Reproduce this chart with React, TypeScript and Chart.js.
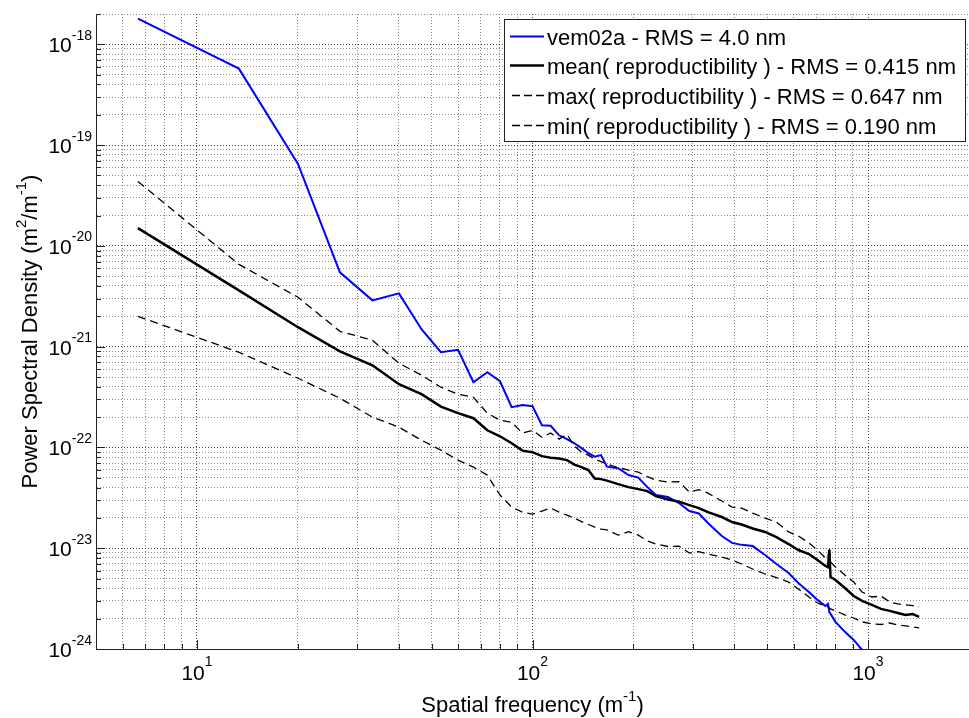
import React, { useEffect, useRef } from "react";
import { Chart, registerables } from "chart.js";

Chart.register(...registerables);

// ---- data ----
const freq = [
  6.667, 13.33, 20, 26.67, 33.33, 40, 46.67, 53.33, 60, 66.67,
  73.33, 80, 86.67, 93.33, 100, 106.7, 113.3, 120, 126.7, 133.3,
  140, 146.7, 153.3, 160, 166.7, 180, 193.3, 206.7, 220, 233.3,
  253.3, 273.3, 293.3, 313.3, 333.3, 366.7, 393.3, 420, 453.3, 493.3,
  533.3, 580, 620, 666.7, 706.7, 746.7, 760, 766.7, 773.3, 800, 853.3, 906.7,
  960, 1026.7, 1093.3, 1160, 1226.7, 1293.3, 1360, 1420,
];

const psdVem = [
  1.8e-18, 5.74e-19, 6.5e-20, 5.46e-21, 2.88e-21, 3.38e-21, 1.49e-21, 8.8e-22, 9.32e-22, 4.44e-22,
  5.58e-22, 4.54e-22, 2.51e-22, 2.63e-22, 2.57e-22, 1.66e-22, 1.64e-22, 1.32e-22, 1.21e-22, 1.1e-22,
  9.84e-23, 8.78e-23, 8.1e-23, 8.39e-23, 6.45e-23, 6.23e-23, 5.32e-23, 5.02e-23, 4.04e-23, 3.37e-23,
  3.22e-23, 2.81e-23, 2.34e-23, 2.21e-23, 1.78e-23, 1.32e-23, 1.13e-23, 1.08e-23, 1.05e-23, 8.56e-24,
  6.97e-24, 5.68e-24, 4.52e-24, 3.68e-24, 3.07e-24, 2.67e-24, 2.8e-24, 2.33e-24, 2.23e-24, 1.86e-24, 1.48e-24, 1.23e-24,
  9.8e-25, 7.8e-25, null, null, null, null, null, null,
];

const psdMean = [
  1.5e-20, 3.62e-21, 1.56e-21, 9.0e-22, 6.54e-22, 4.24e-22, 3.38e-22, 2.54e-22, 2.19e-22, 1.95e-22,
  1.48e-22, 1.29e-22, 1.1e-22, 9.3e-23, 8.98e-23, 8.2e-23, 7.92e-23, 7.78e-23, 7.48e-23, 6.75e-23,
  6.38e-23, 5.96e-23, 4.91e-23, 4.85e-23, 4.69e-23, 4.33e-23, 4.04e-23, 3.86e-23, 3.69e-23, 3.29e-23,
  3.04e-23, 2.9e-23, 2.68e-23, 2.5e-23, 2.28e-23, 2.04e-23, 1.82e-23, 1.72e-23, 1.57e-23, 1.45e-23,
  1.29e-23, 1.1e-23, 9.6e-24, 8.76e-24, 7.64e-24, 6.66e-24, 6.5e-24, 9.6e-24, 5.18e-24, 4.84e-24, 4.03e-24, 3.36e-24,
  3.0e-24, 2.74e-24, 2.5e-24, 2.39e-24, 2.28e-24, 2.18e-24, 2.22e-24, 2.08e-24,
];

const psdMax = [
  4.36e-20, 6.56e-21, 3.09e-21, 1.42e-21, 1.16e-21, 6.85e-22, 5.21e-22, 3.96e-22, 3.38e-22, 3.15e-22,
  2.19e-22, 1.86e-22, 1.78e-22, 1.39e-22, 1.48e-22, 1.26e-22, 1.39e-22, 1.21e-22, 1.35e-22, 1.03e-22,
  8.98e-23, 8.39e-23, 7.66e-23, 7.23e-23, 6.83e-23, 6.31e-23, 5.96e-23, 5.69e-23, 5.14e-23, 4.74e-23,
  4.53e-23, 4.58e-23, 3.61e-23, 3.82e-23, 3.52e-23, 2.94e-23, 2.56e-23, 2.5e-23, 2.23e-23, 1.99e-23,
  1.82e-23, 1.45e-23, 1.32e-23, 1.13e-23, 9.6e-24, 8.0e-24, 7.8e-24, 1.03e-23, 7.3e-24, 6.51e-24, 5.43e-24, 4.62e-24,
  3.68e-24, 3.28e-24, 3.35e-24, 2.93e-24, 2.8e-24, 2.74e-24, 2.7e-24, 2.61e-24,
];

const psdMin = [
  2.0e-21, 8.8e-22, 4.86e-22, 3.08e-22, 2.0e-22, 1.59e-22, 1.18e-22, 9.4e-23, 7.48e-23, 6.38e-23,
  5.32e-23, 3.37e-23, 2.56e-23, 2.28e-23, 2.18e-23, 2.34e-23, 2.5e-23, 2.28e-23, 2.13e-23, 1.99e-23,
  1.84e-23, 1.72e-23, 1.62e-23, 1.55e-23, 1.52e-23, 1.35e-23, 1.46e-23, 1.35e-23, 1.18e-23, 1.1e-23,
  1.04e-23, 1.05e-23, 8.96e-24, 9.27e-24, 8.76e-24, 8.18e-24, 7.64e-24, 6.97e-24, 6.22e-24, 5.55e-24,
  5.12e-24, 4.62e-24, 3.94e-24, 3.28e-24, 2.86e-24, 2.67e-24, 2.61e-24, 2.55e-24, 2.5e-24, 2.39e-24, 2.18e-24, 2.03e-24,
  1.86e-24, 1.77e-24, 1.75e-24, 1.81e-24, 1.73e-24, 1.7e-24, 1.66e-24, 1.62e-24,
];

const seriesLabels = [
  "vem02a - RMS = 4.0 nm",
  "mean( reproductibility ) - RMS = 0.415 nm",
  "max( reproductibility ) - RMS = 0.647 nm",
  "min( reproductibility ) - RMS = 0.190 nm",
];

const xTickExponents = [1, 2, 3];
const yTickExponents = [-24, -23, -22, -21, -20, -19, -18];
const xRange = [5, 2000];
const yRange = [1e-24, 2e-18];
const xTitleParts = ["Spatial frequency (m", "-1", ")"];
const yTitleParts = ["Power Spectral Density (m", "2", "/m", "-1", ")"];

// ---- helpers ----
const FONT = '"Liberation Sans", Arial, Helvetica, sans-serif';

function isDecade(v: number) {
  const l = Math.log10(v);
  return Math.abs(l - Math.round(l)) < 1e-9;
}

function logGridValues(min: number, max: number) {
  const out: number[] = [];
  const e0 = Math.floor(Math.log10(min));
  const e1 = Math.ceil(Math.log10(max));
  for (let e = e0; e <= e1; e++) {
    for (let m = 1; m <= 9; m++) {
      const v = Number(`${m}e${e}`);
      if (v >= min * (1 - 1e-9) && v <= max * (1 + 1e-9)) out.push(v);
    }
  }
  return out;
}

type Seg = { t: string; size: number; dy: number };

function richWidth(ctx: CanvasRenderingContext2D, segs: Seg[]) {
  let w = 0;
  for (const s of segs) {
    ctx.font = `${s.size}px ${FONT}`;
    w += ctx.measureText(s.t).width;
  }
  return w;
}

function drawRich(ctx: CanvasRenderingContext2D, segs: Seg[], x: number, y: number) {
  let cx = x;
  for (const s of segs) {
    ctx.font = `${s.size}px ${FONT}`;
    ctx.fillText(s.t, cx, y + s.dy);
    cx += ctx.measureText(s.t).width;
  }
}

function titleSegs(parts: string[]): Seg[] {
  return parts.map((t, i) =>
    i % 2 === 1 ? { t, size: 15, dy: -11 } : { t, size: 22, dy: 0 }
  );
}

const matlabAxesPlugin = {
  id: "matlabAxes",
  afterDraw(chart: any) {
    const { ctx, chartArea: a, scales } = chart;
    const xs = scales.x;
    const ys = scales.y;
    ctx.save();
    ctx.setLineDash([]);
    // inward tick marks
    ctx.strokeStyle = "#222";
    ctx.lineWidth = 1;
    ctx.beginPath();
    for (const t of xs.ticks) {
      const px = Math.round(xs.getPixelForValue(t.value)) + 0.5;
      if (px < a.left || px > a.right) continue;
      const len = isDecade(t.value) ? 9 : 5;
      ctx.moveTo(px, a.bottom);
      ctx.lineTo(px, a.bottom - len);
    }
    for (const t of ys.ticks) {
      const py = Math.round(ys.getPixelForValue(t.value)) + 0.5;
      if (py < a.top - 1 || py > a.bottom + 1) continue;
      const len = isDecade(t.value) ? 9 : 5;
      ctx.moveTo(a.left, py);
      ctx.lineTo(a.left + len, py);
    }
    ctx.stroke();

    // tick labels
    ctx.fillStyle = "#000";
    ctx.textBaseline = "alphabetic";
    ctx.textAlign = "left";
    for (const e of yTickExponents) {
      const py = ys.getPixelForValue(Number(`1e${e}`));
      const es = String(e);
      ctx.font = `14px ${FONT}`;
      const ew = ctx.measureText(es).width;
      const right = a.left - 4;
      ctx.fillText(es, right - ew, py - 4.5);
      ctx.font = `21px ${FONT}`;
      const bw = ctx.measureText("10").width;
      ctx.fillText("10", right - ew - bw, py + 8);
    }
    for (const e of xTickExponents) {
      const px = xs.getPixelForValue(Number(`1e${e}`));
      const es = String(e);
      ctx.font = `21px ${FONT}`;
      const bw = ctx.measureText("10").width;
      ctx.font = `14px ${FONT}`;
      const ew = ctx.measureText(es).width;
      const x0 = px - (bw + ew) / 2;
      ctx.font = `21px ${FONT}`;
      ctx.fillText("10", x0, a.bottom + 31);
      ctx.font = `14px ${FONT}`;
      ctx.fillText(es, x0 + bw, a.bottom + 17);
    }

    // axis titles
    const xt = titleSegs(xTitleParts);
    const xw = richWidth(ctx, xt);
    drawRich(ctx, xt, (a.left + a.right) / 2 - xw / 2, 712);

    const yt = titleSegs(yTitleParts);
    const yw = richWidth(ctx, yt);
    ctx.save();
    ctx.translate(37, (a.top + a.bottom) / 2);
    ctx.rotate(-Math.PI / 2);
    drawRich(ctx, yt, -yw / 2, 0);
    ctx.restore();

    // legend box
    const L = { x1: 504.5, y1: 19.5, x2: 965.5, y2: 141.5 };
    ctx.fillStyle = "#fff";
    ctx.fillRect(L.x1, L.y1, L.x2 - L.x1, L.y2 - L.y1);
    ctx.strokeStyle = "#222";
    ctx.lineWidth = 1;
    ctx.strokeRect(L.x1, L.y1, L.x2 - L.x1, L.y2 - L.y1);
    chart.data.datasets.forEach((ds: any, i: number) => {
      const base = 44.5 + i * 29.8;
      const ly = Math.round(base - 9) + 0.5;
      ctx.save();
      ctx.strokeStyle = ds.borderColor;
      ctx.lineWidth = ds.borderWidth;
      ctx.setLineDash(ds.borderDash ? [8, 4] : []);
      ctx.beginPath();
      ctx.moveTo(ds.borderDash ? 512 : 510, ly);
      ctx.lineTo(544, ly);
      ctx.stroke();
      ctx.restore();
      ctx.fillStyle = "#000";
      ctx.font = `22px ${FONT}`;
      ctx.fillText(ds.label, 547, base);
    });
    ctx.restore();
  },
};

const gridColor = (c: any) =>
  c.tick && isDecade(c.tick.value) ? "rgba(0,0,0,0.7)" : "rgba(0,0,0,0.45)";

export default function App() {
  const canvasRef = useRef<HTMLCanvasElement | null>(null);

  useEffect(() => {
    if (!canvasRef.current) return;
    const pts = (arr: (number | null)[]) => freq.map((f, i) => ({ x: f, y: arr[i] }));
    const chart = new Chart(canvasRef.current, {
      type: "line",
      data: {
        datasets: [
          {
            label: seriesLabels[0],
            data: pts(psdVem),
            borderColor: "#0000ff",
            borderWidth: 2,
            pointRadius: 0,
            order: 4,
          },
          {
            label: seriesLabels[1],
            data: pts(psdMean),
            borderColor: "#000000",
            borderWidth: 2.5,
            pointRadius: 0,
            order: 3,
          },
          {
            label: seriesLabels[2],
            data: pts(psdMax),
            borderColor: "#000000",
            borderWidth: 1.3,
            borderDash: [8, 5],
            pointRadius: 0,
            order: 2,
          },
          {
            label: seriesLabels[3],
            data: pts(psdMin),
            borderColor: "#000000",
            borderWidth: 1.3,
            borderDash: [8, 5],
            pointRadius: 0,
            order: 1,
          },
        ] as any,
      },
      options: {
        animation: false,
        responsive: false,
        maintainAspectRatio: false,
        devicePixelRatio: 1,
        layout: { padding: { top: 14, left: 0, right: 0, bottom: 0 } },
        elements: { line: { tension: 0 } },
        plugins: { legend: { display: false }, tooltip: { enabled: false } },
        scales: {
          x: {
            type: "logarithmic",
            position: "bottom",
            min: xRange[0],
            max: xRange[1],
            afterBuildTicks: (s: any) => {
              s.ticks = logGridValues(xRange[0], xRange[1]).map((v) => ({ value: v }));
            },
            afterFit: (s: any) => {
              s.height = 69;
            },
            ticks: { display: false },
            grid: { color: gridColor, lineWidth: 1, drawTicks: false, tickLength: 0 },
            border: { display: true, color: "#222", width: 1, dash: [1, 2] },
          },
          y: {
            type: "logarithmic",
            position: "left",
            min: yRange[0],
            max: yRange[1],
            afterBuildTicks: (s: any) => {
              s.ticks = logGridValues(yRange[0], yRange[1]).map((v) => ({ value: v }));
            },
            afterFit: (s: any) => {
              s.width = 96;
            },
            ticks: { display: false },
            grid: { color: gridColor, lineWidth: 1, drawTicks: false, tickLength: 0 },
            border: { display: true, color: "#222", width: 1, dash: [1, 2] },
          },
        },
      } as any,
      plugins: [matlabAxesPlugin],
    });
    return () => chart.destroy();
  }, []);

  return (
    <div style={{ position: "absolute", left: 0, top: 0, width: 969, height: 718, background: "#fff" }}>
      <canvas ref={canvasRef} width={969} height={718} style={{ display: "block" }} />
    </div>
  );
}
